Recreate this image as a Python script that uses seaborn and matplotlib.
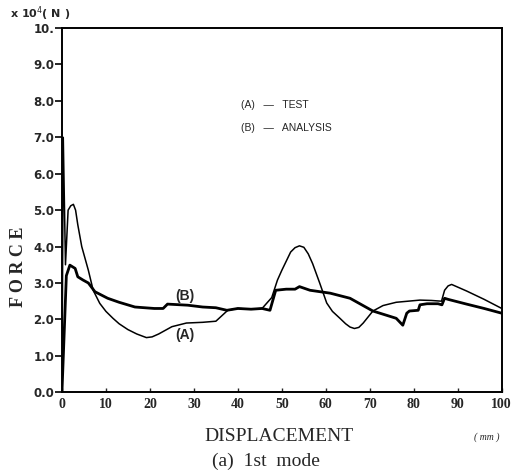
import numpy as np
import pandas as pd
import matplotlib
matplotlib.use("Agg")
import matplotlib.pyplot as plt
import seaborn as sns

# (A) test curve (displacement mm, force x10^4 N)
test_x = [0, 0.3, 0.8, 1.4, 2.0, 2.6, 3.1, 3.6, 4.5, 6.0, 7.1, 8.6, 10.0, 11.6, 13.0,
          15.0, 17.0, 19.2, 20.5, 22.0, 25.0, 28.3, 32.0, 35.0, 37.7, 40.0, 43.0, 45.5,
          47.7, 49.0, 50.0, 51.0, 52.0, 53.0, 54.0, 55.0, 56.0, 57.0, 58.6, 60.2, 61.5,
          63.2, 64.5, 65.5, 66.5, 67.5, 68.5, 70.7, 73.0, 76.0, 81.4, 84.0, 86.3, 87.0,
          87.8, 88.6, 92.0, 96.0, 100.0]
test_y = [0.0, 7.0, 3.5, 5.0, 5.12, 5.16, 5.0, 4.6, 4.0, 3.35, 2.8, 2.44, 2.22, 2.03, 1.88,
          1.72, 1.6, 1.5, 1.52, 1.6, 1.8, 1.9, 1.92, 1.95, 2.25, 2.3, 2.28, 2.3,
          2.6, 3.08, 3.35, 3.6, 3.85, 3.97, 4.02, 3.98, 3.8, 3.53, 3.0, 2.45, 2.22,
          2.03, 1.88, 1.79, 1.75, 1.78, 1.9, 2.23, 2.38, 2.47, 2.53, 2.52, 2.5, 2.8,
          2.92, 2.96, 2.78, 2.55, 2.3]

# (B) analysis curve
anal_x = [0, 1.0, 1.8, 3.0, 3.6, 4.8, 6.0, 7.5, 10.4, 13.0, 16.6, 21.0, 23.0, 24.0,
          28.6, 32.0, 35.0, 37.5, 40.0, 43.0, 45.5, 47.3, 48.6, 51.0, 53.0, 54.0, 56.4,
          61.0, 65.5, 70.7, 76.0, 77.5, 78.4, 79.0, 81.0, 81.4, 83.0, 85.5, 86.4, 87.0,
          87.8, 92.0, 96.0, 100.0]
anal_y = [0.0, 3.2, 3.49, 3.4, 3.17, 3.08, 3.0, 2.76, 2.58, 2.47, 2.34, 2.3, 2.3, 2.42,
          2.39, 2.34, 2.32, 2.25, 2.3, 2.28, 2.3, 2.25, 2.8, 2.83, 2.83, 2.9, 2.8,
          2.72, 2.58, 2.23, 2.03, 1.84, 2.17, 2.23, 2.25, 2.4, 2.43, 2.43, 2.4, 2.58,
          2.55, 2.42, 2.3, 2.17]

y_ticks = [0, 1, 2, 3, 4, 5, 6, 7, 8, 9, 10]
y_tick_labels = ["0.0", "1.0", "2.0", "3.0", "4.0", "5.0", "6.0", "7.0", "8.0", "9.0", "10."]
x_ticks = [0, 10, 20, 30, 40, 50, 60, 70, 80, 90, 100]

sns.set_theme(style="ticks")
plt.rcParams['font.family'] = ['DejaVu Sans']

fig = plt.figure(figsize=(5.12, 4.76), dpi=100)
ax = fig.add_axes([0.121, 0.176, 0.859, 0.765])

df_a = pd.DataFrame({"x": test_x, "y": test_y})
df_b = pd.DataFrame({"x": anal_x, "y": anal_y})
sns.lineplot(data=df_a, x="x", y="y", ax=ax, color="black", linewidth=1.1,
             sort=False, estimator=None)
sns.lineplot(data=df_b, x="x", y="y", ax=ax, color="black", linewidth=2.0,
             sort=False, estimator=None)

ax.set_xlim(0, 100)
ax.set_ylim(0, 10)
ax.set_xticks(x_ticks)
ax.set_yticks(y_ticks)
ax.set_yticklabels(y_tick_labels)
for s in ax.spines.values():
    s.set_color("black")
    s.set_linewidth(1.4)
ax.tick_params(axis="y", direction="out", length=5, width=1.4, pad=0.5, labelsize=8.5)
ax.tick_params(axis="x", direction="in", length=3, width=1.0, pad=4, labelsize=10)
for lab in ax.get_yticklabels():
    lab.set_fontweight("bold")
for lab in ax.get_xticklabels():
    lab.set_family("Liberation Serif")
    lab.set_fontweight("bold")

ax.set_xlabel("")
ax.set_ylabel("")

# curve labels and key
ax.text(28.0, 2.63, "(B)", fontsize=10, fontweight="bold", ha="center", va="center",
        family="Liberation Sans")
ax.text(28.0, 1.57, "(A)", fontsize=10, fontweight="bold", ha="center", va="center",
        family="Liberation Sans")
ax.text(40.8, 7.9, "(A)   \u2014   TEST", fontsize=7.5, ha="left", va="center",
        family="Liberation Sans")
ax.text(40.8, 7.25, "(B)   \u2014   ANALYSIS", fontsize=7.5, ha="left", va="center",
        family="Liberation Sans")

fig.text(0.02, 0.972, "x 10$^4$( N )", fontsize=8, fontweight="bold", ha="left", va="center")
fig.text(0.036, 0.44, "F O R C E", fontsize=13, rotation=90, ha="center", va="center",
         family="Liberation Serif", fontweight="bold")
fig.text(0.545, 0.082, "DISPLACEMENT", fontsize=14, ha="center", va="center",
         family="Liberation Serif")
fig.text(0.95, 0.082, "( mm )", fontsize=7, ha="center", va="center", style="italic",
         family="Liberation Serif")
fig.text(0.52, 0.031, "(a)  1st  mode", fontsize=14, ha="center", va="center",
         family="Liberation Serif")

fig.savefig("out.png", dpi=100)
